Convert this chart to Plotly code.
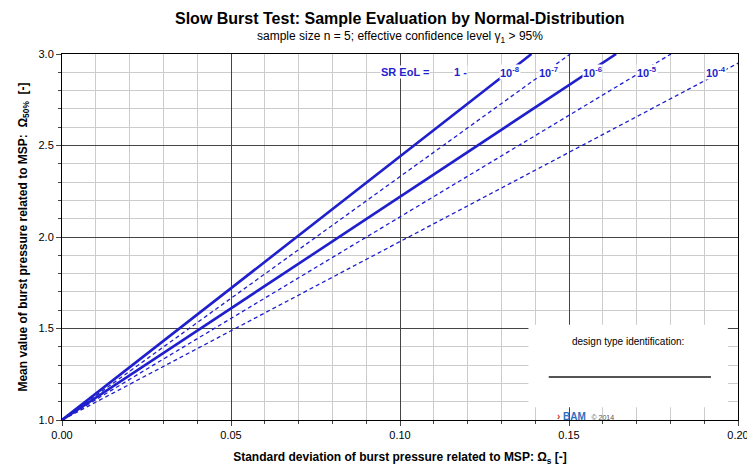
import numpy as np
import plotly.graph_objects as go


def build_figure(slopes, x_max):
    """Build the slow burst test evaluation chart with Plotly graph_objects."""
    fig = go.Figure()
    for name, k, style in slopes:
        x_end = min(x_max, 2.0 / k)  # stop where the line leaves the top of the plot
        x = np.array([0.0, x_end])
        y = 1.0 + k * x
        fig.add_trace(go.Scatter(
            x=x, y=y, mode="lines", name=name,
            line=dict(color="#1f1fcc", width=2.6 if style == "solid" else 1.3,
                      dash=style),
        ))

    # Label row for survival rates
    labels = [(0.1015, "SR EoL ="), (0.118, "1 -"), (0.1325, "10<sup>-8</sup>"),
              (0.1438, "10<sup>-7</sup>"), (0.157, "10<sup>-6</sup>"),
              (0.173, "10<sup>-5</sup>"), (0.1935, "10<sup>-4</sup>")]
    for xv, txt in labels:
        fig.add_annotation(x=xv, y=2.90, text="<b>" + txt + "</b>", showarrow=False,
                           font=dict(color="#1f1fcc", size=11, family="Arial"),
                           bgcolor="white", borderpad=0)

    # design type box
    fig.add_shape(type="rect", x0=0.138, x1=0.197, y0=1.07, y1=1.52,
                  fillcolor="white", line=dict(width=0), layer="above")
    fig.add_annotation(x=0.1675, y=1.43, text="design type identification:",
                       showarrow=False, font=dict(size=10, color="black"))
    fig.add_shape(type="line", x0=0.144, x1=0.192, y0=1.235, y1=1.235,
                  line=dict(color="#555555", width=2), layer="above")
    fig.add_annotation(x=0.155, y=1.02, text="<b><span style='color:#d03030'>&#8250;</span>"
                       "<span style='color:#3070c0'> BAM</span></b>  <span style='font-size:7px'>© 2014</span>",
                       showarrow=False, font=dict(size=10, color="#555555"))

    # title block
    fig.add_annotation(x=0.5, y=1.0, xref="paper", yref="paper", yshift=36, yanchor="middle",
                       text="<b>Slow Burst Test: Sample Evaluation by Normal-Distribution</b>",
                       showarrow=False, font=dict(size=16, family="Arial"))
    fig.add_annotation(x=0.5, y=1.0, xref="paper", yref="paper", yshift=17, yanchor="middle",
                       text="sample size n = 5; effective confidence level γ<sub>1</sub> > 95%",
                       showarrow=False, font=dict(size=12, family="Arial"))

    fig.update_layout(
        width=747, height=466,  # page body margin adds 8 px
        margin=dict(l=54, r=17, t=46, b=54, autoexpand=False),
        plot_bgcolor="white", paper_bgcolor="white",
        showlegend=False,
        font=dict(family="Arial", size=11, color="black"),
    )
    fig.update_xaxes(
        range=[0, 0.2], tickvals=[0, 0.05, 0.1, 0.15, 0.2], tickformat=".2f",
        showgrid=True, gridcolor="#444444", gridwidth=1,
        minor=dict(dtick=0.01, showgrid=True, gridcolor="#cccccc", ticks="outside", ticklen=3),
        ticks="outside", showline=True, linecolor="black", mirror=True, zeroline=False,
        title=dict(text="<b>Standard deviation of burst pressure related to MSP: Ω<sub>s</sub> [-]</b>",
                   font=dict(size=12), standoff=12),
    )
    fig.update_yaxes(
        range=[1.0, 3.0], dtick=0.5, tickformat=".1f",
        showgrid=True, gridcolor="#444444", gridwidth=1,
        minor=dict(dtick=0.1, showgrid=True, gridcolor="#cccccc", ticks="outside", ticklen=3),
        ticks="outside", showline=True, linecolor="black", mirror=True, zeroline=False,
        title=dict(text="<b>Mean value of burst pressure related to MSP:  Ω<sub>50%</sub>  [-]</b>",
                   font=dict(size=12), standoff=8),
    )
    return fig


if __name__ == "__main__":
    slopes = [
        ("1-1e-8", 14.4, "solid"),
        ("1-1e-7", 13.3, "4px,3px"),
        ("1-1e-6", 12.2, "solid"),
        ("1-1e-5", 11.1, "4px,3px"),
        ("1-1e-4", 9.75, "4px,3px"),
    ]
    fig = build_figure(slopes, 0.2)
    fig.write_html("out.html")
